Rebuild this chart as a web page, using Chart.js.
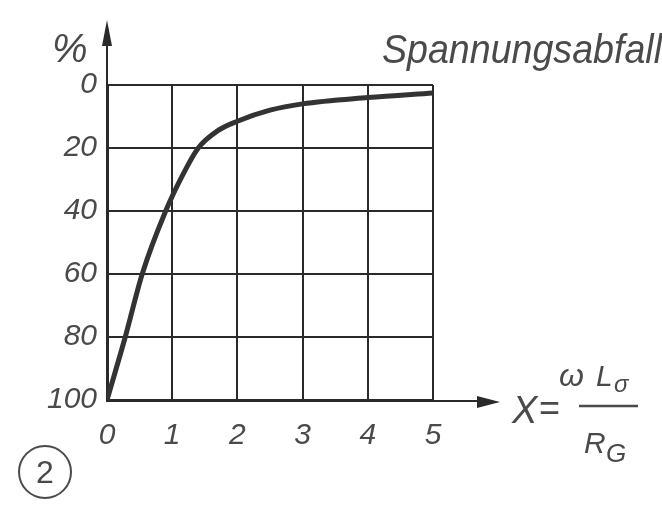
<!DOCTYPE html>
<html>
<head>
<meta charset="utf-8">
<title>Spannungsabfall</title>
<script src="https://cdn.jsdelivr.net/npm/chart.js@4/dist/chart.umd.min.js"></script>
<style>
  html, body { margin: 0; padding: 0; background: #fff; }
  canvas { display: block; }
</style>
</head>
<body>
<canvas id="chart" width="662" height="508"></canvas>
<script>
// curve: voltage drop (%) over X = ωLσ / RG
const xValues = [0, 0.28, 0.54, 0.9, 1.15, 1.4, 1.7, 2, 2.5, 3, 4, 5];
const dropValues = [100, 80, 60, 40, 29, 20, 14.5, 11.5, 8, 6, 4, 2.5];

// axis ticks
const xTicks = [0, 1, 2, 3, 4, 5];
const yTicks = [0, 20, 40, 60, 80, 100];

const INK = "#2a2a2a";
const TEXT = "#4a4a4a";
const FONT = "'Liberation Sans', Arial, sans-serif";

const points = xValues.map((x, i) => ({ x, y: dropValues[i] }));

// arrows on both axes, axis caption, title, figure number
const decorations = {
  id: "decorations",
  afterDraw(chart) {
    const { ctx, scales: { x, y } } = chart;
    const x0 = x.getPixelForValue(0);
    const x5 = x.getPixelForValue(5);
    const yTop = y.getPixelForValue(0);
    const yBot = y.getPixelForValue(100);

    ctx.save();
    ctx.strokeStyle = INK;
    ctx.fillStyle = INK;
    ctx.lineWidth = 2;

    // y axis extension + arrow
    ctx.beginPath();
    ctx.moveTo(x0, yTop);
    ctx.lineTo(x0, 40);
    ctx.stroke();
    ctx.beginPath();
    ctx.moveTo(x0, 20);
    ctx.lineTo(x0 - 5, 46);
    ctx.lineTo(x0 + 5, 46);
    ctx.closePath();
    ctx.fill();

    // x axis extension + arrow
    ctx.beginPath();
    ctx.moveTo(x5, yBot + 1);
    ctx.lineTo(485, yBot + 1);
    ctx.stroke();
    ctx.beginPath();
    ctx.moveTo(500, yBot + 2);
    ctx.lineTo(477, yBot - 4);
    ctx.lineTo(477, yBot + 8);
    ctx.closePath();
    ctx.fill();

    ctx.fillStyle = TEXT;
    ctx.strokeStyle = TEXT;
    ctx.textBaseline = "alphabetic";
    ctx.textAlign = "left";

    // "%" above the y axis
    ctx.font = `italic 40px ${FONT}`;
    ctx.fillText("%", 52, 62);

    // title, squeezed to the page edge
    ctx.font = `italic 40px ${FONT}`;
    const title = "Spannungsabfall";
    const tw = ctx.measureText(title).width;
    ctx.save();
    ctx.translate(382, 63);
    ctx.scale(280 / tw, 1);
    ctx.fillText(title, 0, 0);
    ctx.restore();

    // X = ωLσ / RG
    ctx.font = `italic 38px ${FONT}`;
    ctx.fillText("X", 512, 423);
    ctx.font = `36px ${FONT}`;
    ctx.fillText("=", 539, 420);
    ctx.lineWidth = 2.5;
    ctx.beginPath();
    ctx.moveTo(579, 406);
    ctx.lineTo(638, 406);
    ctx.stroke();
    ctx.font = `italic 32px ${FONT}`;
    ctx.fillText("ω", 559, 386);
    ctx.font = `italic 30px ${FONT}`;
    ctx.fillText("L", 596, 386);
    ctx.font = `italic 24px ${FONT}`;
    ctx.fillText("σ", 614, 392);
    ctx.font = `italic 30px ${FONT}`;
    ctx.fillText("R", 584, 453);
    ctx.font = `italic 26px ${FONT}`;
    ctx.fillText("G", 606, 462);

    // figure number in a circle
    ctx.lineWidth = 2;
    ctx.beginPath();
    ctx.arc(45, 472, 26, 0, Math.PI * 2);
    ctx.stroke();
    ctx.font = `32px ${FONT}`;
    ctx.textAlign = "center";
    ctx.textBaseline = "middle";
    ctx.fillText("2", 45, 474);

    ctx.restore();
  }
};

new Chart(document.getElementById("chart"), {
  type: "scatter",
  data: {
    datasets: [{
      data: points,
      showLine: true,
      borderColor: "#333",
      borderWidth: 5,
      borderCapStyle: "round",
      cubicInterpolationMode: "monotone",
      pointRadius: 0,
      fill: false
    }]
  },
  options: {
    responsive: false,
    devicePixelRatio: 1,
    animation: false,
    layout: { padding: { top: 85, right: 229, bottom: 48, left: 0 } },
    plugins: {
      legend: { display: false },
      tooltip: { enabled: false }
    },
    scales: {
      x: {
        type: "linear",
        min: 0,
        max: 5,
        afterBuildTicks: (s) => { s.ticks = xTicks.map(v => ({ value: v })); },
        afterFit: (s) => { s.height = 60; },
        grid: { color: INK, lineWidth: 2, drawTicks: false },
        border: { display: true, color: INK, width: 3 },
        ticks: {
          padding: 18,
          color: TEXT,
          font: { family: FONT, size: 30, style: "italic" }
        }
      },
      y: {
        type: "linear",
        reverse: true,
        min: 0,
        max: 100,
        afterBuildTicks: (s) => { s.ticks = yTicks.map(v => ({ value: v })); },
        afterFit: (s) => { s.width = 107; },
        grid: { color: INK, lineWidth: 2, drawTicks: false },
        border: { display: true, color: INK, width: 3 },
        ticks: {
          padding: 10,
          color: TEXT,
          font: { family: FONT, size: 30, style: "italic" }
        }
      }
    }
  },
  plugins: [decorations]
});
</script>
</body>
</html>
